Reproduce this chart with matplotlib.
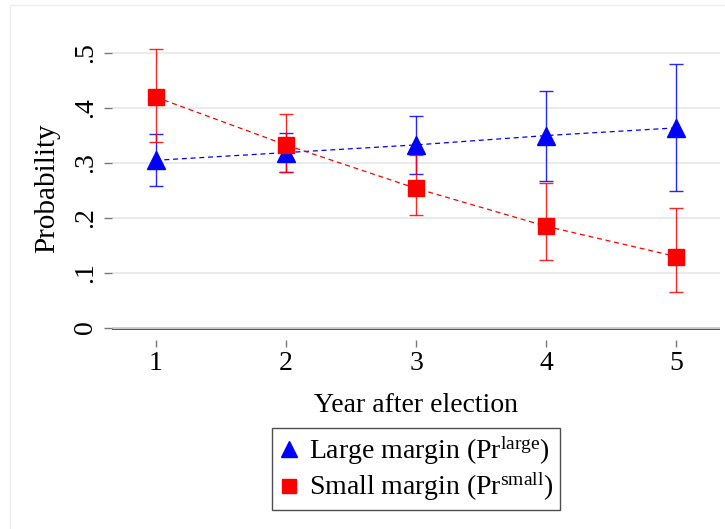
import matplotlib
matplotlib.use("Agg")
import matplotlib.pyplot as plt
from matplotlib.lines import Line2D
from matplotlib.patches import Rectangle

plt.rcParams['font.family'] = ['Liberation Serif', 'DejaVu Serif']
plt.rcParams['mathtext.fontset'] = 'custom'
plt.rcParams['mathtext.rm'] = 'Liberation Serif'
plt.rcParams['mathtext.it'] = 'Liberation Serif:italic'

years = [1, 2, 3, 4, 5]
large = [0.304, 0.318, 0.332, 0.349, 0.363]
large_lo = [0.257, 0.282, 0.279, 0.266, 0.248]
large_hi = [0.352, 0.353, 0.385, 0.430, 0.480]
small = [0.419, 0.332, 0.253, 0.184, 0.129]
small_lo = [0.337, 0.282, 0.204, 0.123, 0.064]
small_hi = [0.507, 0.389, 0.314, 0.262, 0.218]
yticks = [0, 0.1, 0.2, 0.3, 0.4, 0.5]
ytick_labels = ["0", ".1", ".2", ".3", ".4", ".5"]

W, H = 725, 529
fig = plt.figure(figsize=(W / 100, H / 100), dpi=100)

left_px, right_px = 112, 720
y0_px = 327.5
per01 = 55.0
bottom_px = 340
top_px = 36
ymin = -(bottom_px - y0_px) / per01 * 0.1
ymax = (y0_px - top_px) / per01 * 0.1
ax = fig.add_axes([left_px / W, 1 - bottom_px / H, (right_px - left_px) / W, (bottom_px - top_px) / H])
ax.set_ylim(ymin, ymax)
ax.set_xlim(0.665, 5.335)

for s in ax.spines.values():
    s.set_visible(False)

ax.set_yticks(yticks)
ax.set_yticklabels(ytick_labels, rotation=90, va='center', fontsize=20)
ax.set_xticks(years)
ax.set_xticklabels([str(y) for y in years], fontsize=20)
ax.tick_params(axis='y', length=6, width=1, color='#777777', pad=4)
ax.tick_params(axis='x', length=5, width=1, color='#777777', pad=3, direction='out')
ax.grid(axis='y', color='#e8e8e8', lw=1.2, zorder=0)
ax.axhline(0, color='#222222', lw=1.8, zorder=1)

ax.set_ylabel("Probability", fontsize=21, labelpad=9)
ax.set_xlabel("Year after election", fontsize=20, labelpad=12)

blue = '#0000ff'
red = '#ff0000'
ax.errorbar(years, large,
            yerr=[[l - lo for l, lo in zip(large, large_lo)], [hi - l for l, hi in zip(large, large_hi)]],
            fmt='none', ecolor=blue, elinewidth=1.0, capsize=5, capthick=1.0, zorder=3, alpha=0.85)
ax.errorbar(years, small,
            yerr=[[s - lo for s, lo in zip(small, small_lo)], [hi - s for s, hi in zip(small, small_hi)]],
            fmt='none', ecolor=red, elinewidth=1.0, capsize=5, capthick=1.0, zorder=3, alpha=0.85)
ax.plot(years, large, color=blue, ls=(0, (4, 3)), lw=0.9, zorder=4)
ax.plot(years, small, color=red, ls=(0, (4, 3)), lw=0.9, zorder=4)
ax.plot(years, large, ls='none', marker='^', ms=13, color=blue, mec=blue, zorder=5)
ax.plot(years, small, ls='none', marker='s', ms=11, color=red, mec=red, zorder=5)

handles = [Line2D([], [], ls='none', marker='^', ms=12, color=blue),
           Line2D([], [], ls='none', marker='s', ms=10, color=red)]
labels = [r"Large margin (Pr$^{\mathrm{large}}$)", r"Small margin (Pr$^{\mathrm{small}}$)"]
leg = fig.legend(handles, labels, loc='center', bbox_to_anchor=((left_px + right_px) / 2 / W, 1 - 469 / H),
                 frameon=True, fancybox=False, edgecolor='#222222', fontsize=20,
                 handlelength=0.7, handletextpad=0.35, borderpad=0.25, labelspacing=0.15,
                 borderaxespad=0)
leg.get_frame().set_linewidth(1.0)

fig.patches.append(Rectangle((10 / W, -0.1), 1.2, 1 - 5 / H + 0.1, transform=fig.transFigure,
                             fill=False, edgecolor='#eeeeee', lw=1.0))

fig.savefig("out.png", dpi=100)
